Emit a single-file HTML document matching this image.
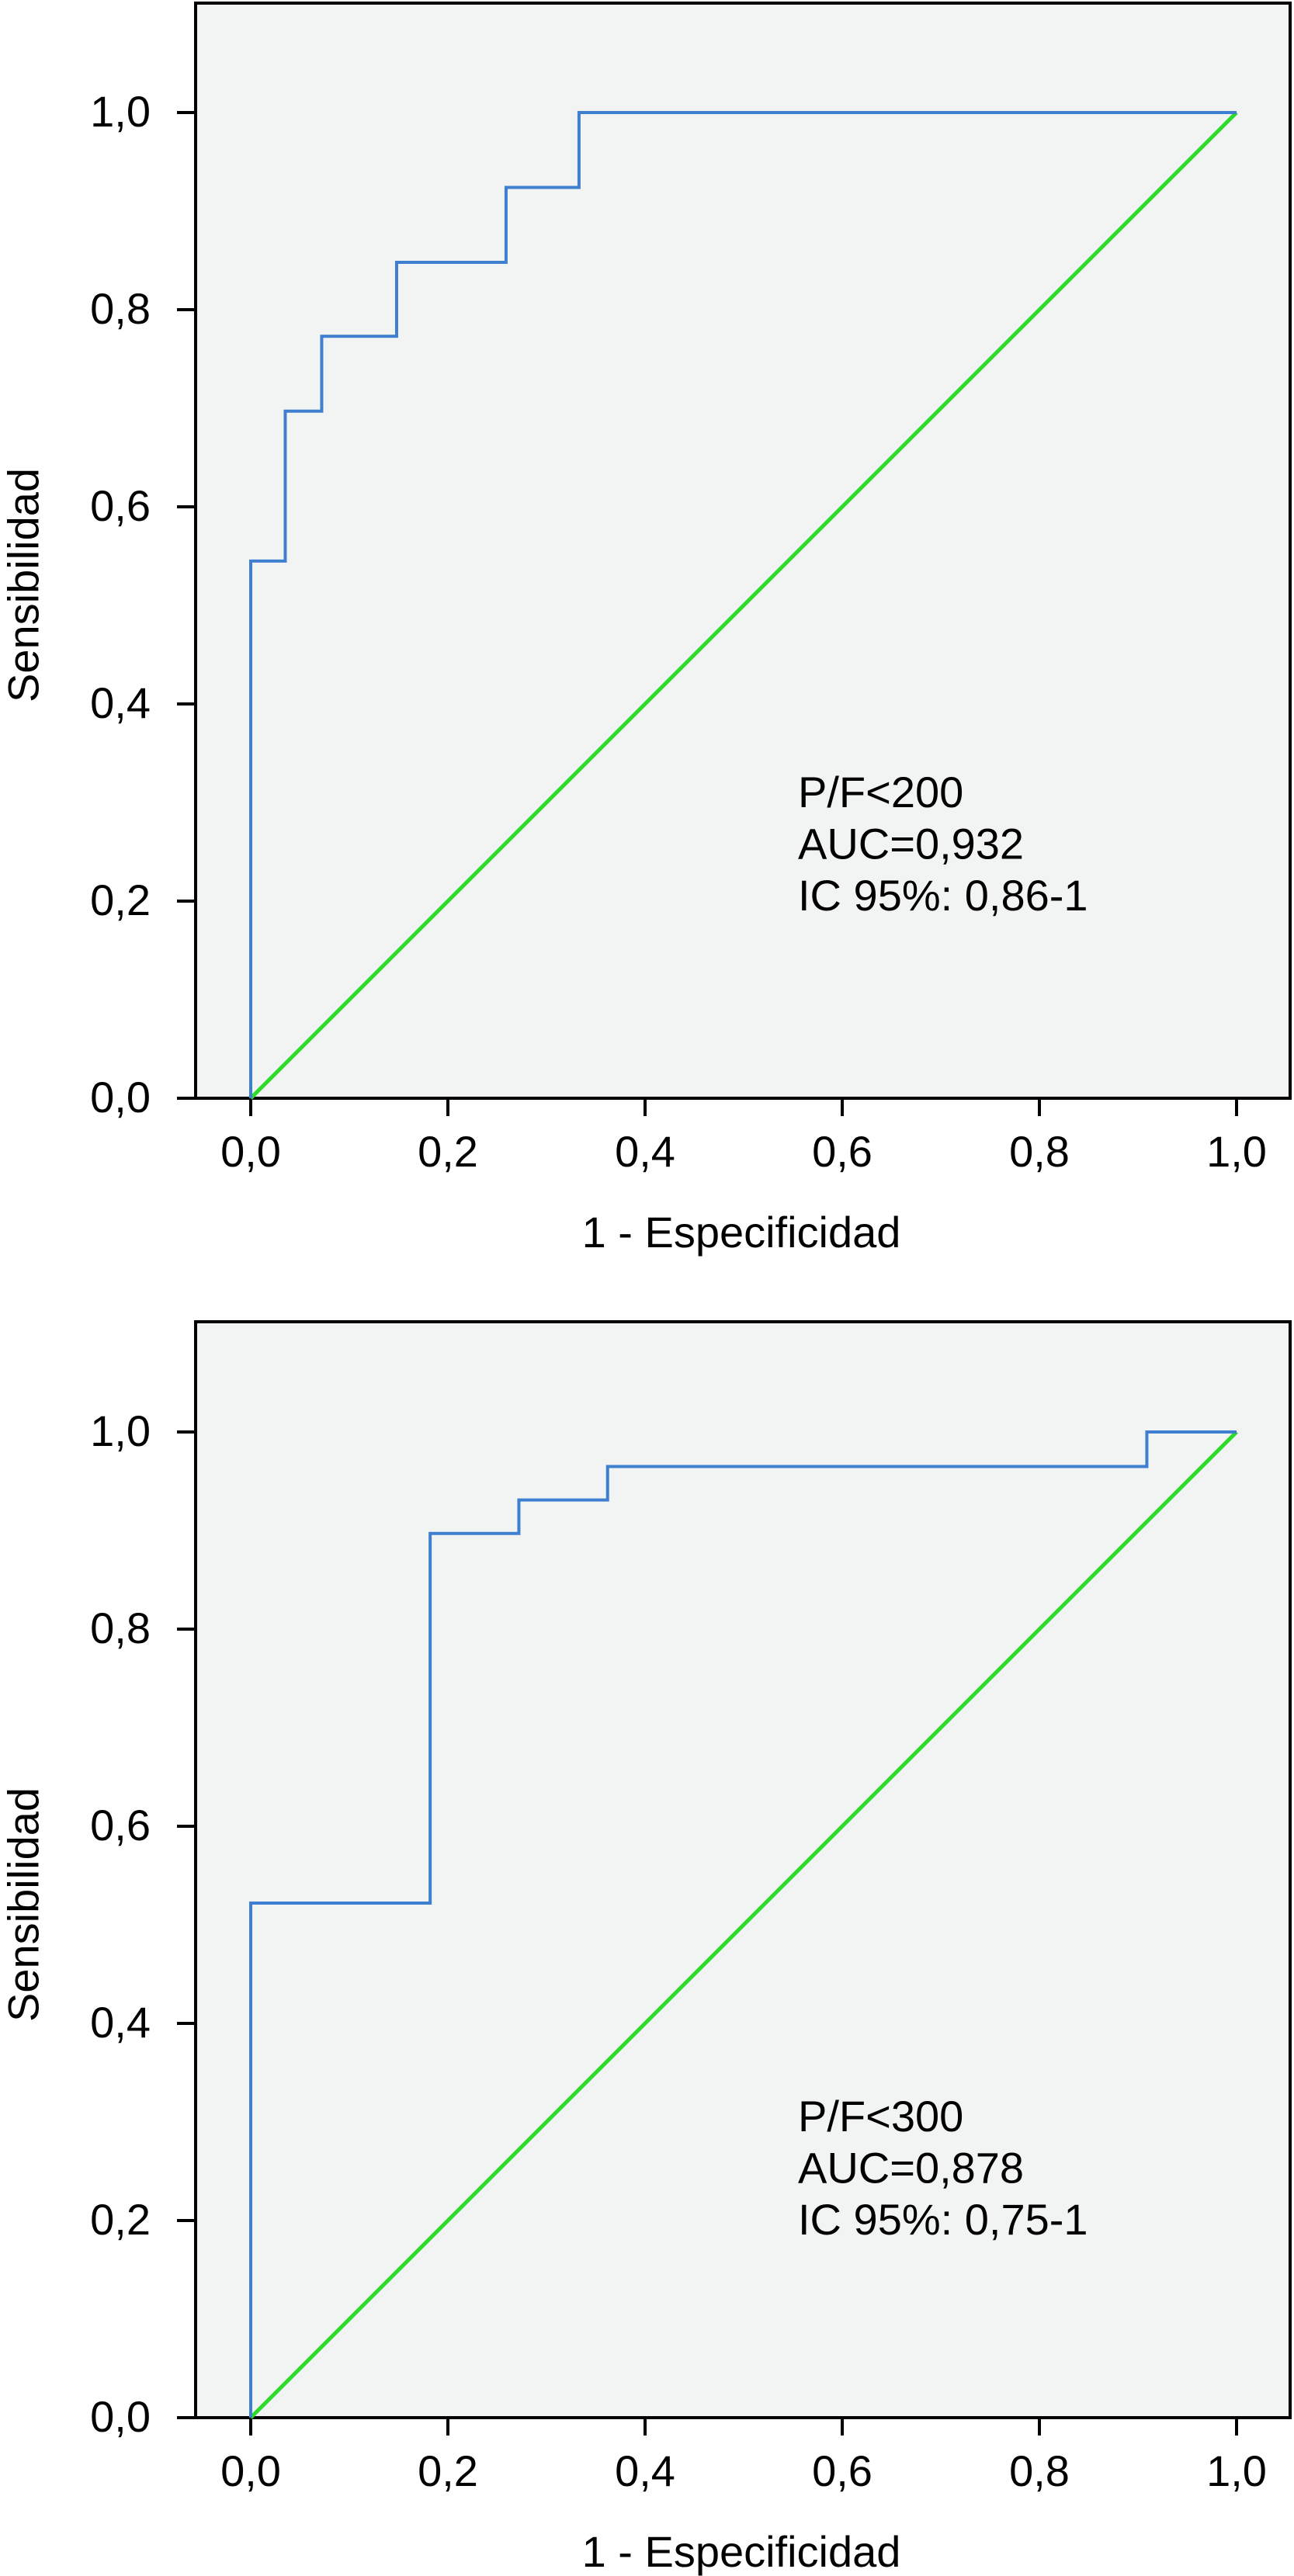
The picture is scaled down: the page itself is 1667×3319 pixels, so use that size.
<!DOCTYPE html>
<html><head><meta charset="utf-8"><style>
html,body{margin:0;padding:0;background:#fff;}
svg{display:block;font-family:"Liberation Sans",Arial,sans-serif;}
</style></head><body>
<svg id="svg" width="1667" height="3319" viewBox="0 0 1667 3319"></svg>
<script>
const tickVals = [0, 0.2, 0.4, 0.6, 0.8, 1.0];
const tickLabels = ["0,0", "0,2", "0,4", "0,6", "0,8", "1,0"];
const roc1X = [0, 0, 0.035, 0.035, 0.072, 0.072, 0.148, 0.148, 0.259, 0.259, 0.333, 0.333, 1];
const roc1Y = [0, 0.545, 0.545, 0.697, 0.697, 0.773, 0.773, 0.848, 0.848, 0.924, 0.924, 1, 1];
const roc2X = [0, 0, 0.182, 0.182, 0.272, 0.272, 0.362, 0.362, 0.909, 0.909, 1];
const roc2Y = [0, 0.522, 0.522, 0.897, 0.897, 0.931, 0.931, 0.965, 0.965, 1, 1];
const ann1 = ["P/F<200", "AUC=0,932", "IC 95%: 0,86-1"];
const ann2 = ["P/F<300", "AUC=0,878", "IC 95%: 0,75-1"];

const NS = "http://www.w3.org/2000/svg";
const svg = document.getElementById('svg');
function mk(tag, attrs, parent) {
  const e = document.createElementNS(NS, tag);
  for (const k in attrs) e.setAttribute(k, attrs[k]);
  (parent || svg).appendChild(e);
  return e;
}
function drawChart(idx, top, y0, xs, ys, ann, annY) {
  const x0 = 323, unit = 1270;
  const sx = v => x0 + v * unit;
  const sy = v => y0 - v * unit;
  const g = mk('g', {});
  
  
  const bg = mk('rect', {x: 252, y: top, width: 1410, height: y0 - top, fill: '#f1f4f3', stroke: '#000', 'stroke-width': 4}, g);
  
  
  tickVals.forEach((v, i) => {
    const t = mk('line', {x1: 228, x2: 252, y1: sy(v), y2: sy(v), stroke: '#000', 'stroke-width': 4}, g);
    
    
    const l = mk('text', {x: 194, y: sy(v) + 18, 'text-anchor': 'end', 'font-size': 56, fill: '#000'}, g);
    l.textContent = tickLabels[i];
    
    
    const tx = mk('line', {x1: sx(v), x2: sx(v), y1: y0, y2: y0 + 23, stroke: '#000', 'stroke-width': 4}, g);
    
    
    const lx = mk('text', {x: sx(v), y: y0 + 88, 'text-anchor': 'middle', 'font-size': 56, fill: '#000'}, g);
    lx.textContent = tickLabels[i];
    
    
  });
  const diag = mk('line', {x1: sx(0), y1: sy(0), x2: sx(1), y2: sy(1), stroke: '#2ddc2a', 'stroke-width': 5}, g);
  
  
  const pts = xs.map((x, i) => sx(x) + ',' + sy(ys[i])).join(' ');
  const roc = mk('polyline', {points: pts, fill: 'none', stroke: '#3f7fcf', 'stroke-width': 4}, g);
  
  
  ann.forEach((s, i) => {
    const t = mk('text', {x: 1028, y: annY + i * 66.5, 'font-size': 56, fill: '#000'}, g);
    t.textContent = s;
    
    
  });
  const xt = mk('text', {x: 955, y: y0 + 192, 'text-anchor': 'middle', 'font-size': 56, fill: '#000'}, g);
  xt.textContent = '1 - Especificidad';
  
  
  const cy = y0 - 661;
  const yt = mk('text', {x: 30, y: cy, 'text-anchor': 'middle', 'font-size': 56, fill: '#000', transform: 'rotate(-90 30 ' + cy + ')', 'dominant-baseline': 'central'}, g);
  yt.textContent = 'Sensibilidad';
  
  
}
drawChart(1, 4, 1415, roc1X, roc1Y, ann1, 1040);
drawChart(2, 1703, 3115, roc2X, roc2Y, ann2, 2746);
</script>
</body></html>
